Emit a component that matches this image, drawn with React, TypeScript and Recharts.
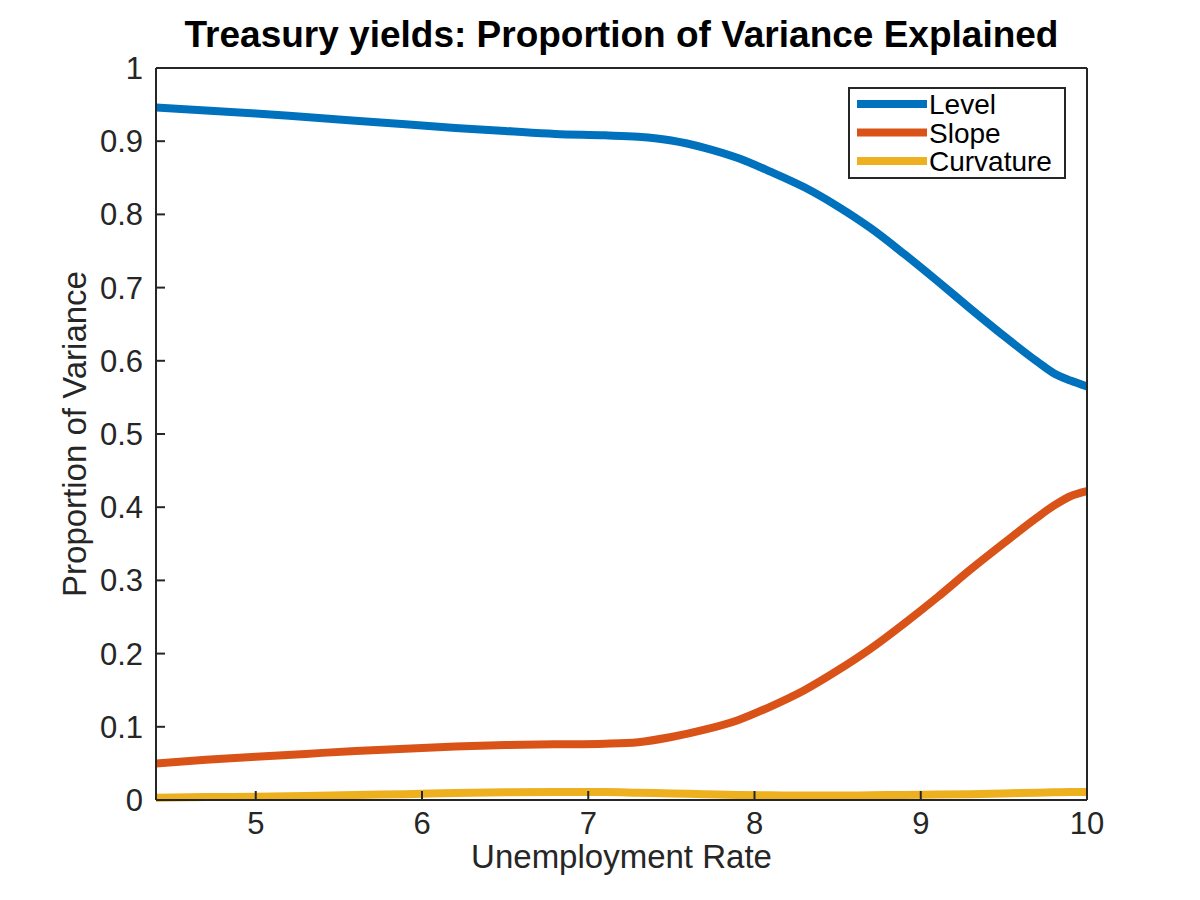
import React from "react";
import { LineChart, Line, XAxis, YAxis, Legend, Label } from "recharts";

// unemployment rate grid
const unemployment = [4.4, 4.7, 5.0, 5.3, 5.6, 5.9, 6.2, 6.5, 6.8, 7.1, 7.3, 7.5, 7.7, 7.9, 8.1, 8.3, 8.5, 8.7, 8.9, 9.1, 9.3, 9.5, 9.7, 9.8, 9.9, 10.0];

const level = [0.946, 0.942, 0.938, 0.933, 0.928, 0.923, 0.918, 0.914, 0.910, 0.908, 0.906, 0.901, 0.891, 0.877, 0.858, 0.837, 0.811, 0.781, 0.746, 0.709, 0.671, 0.634, 0.599, 0.583, 0.573, 0.565];
const slope = [0.050, 0.055, 0.059, 0.063, 0.067, 0.070, 0.073, 0.075, 0.076, 0.077, 0.079, 0.086, 0.096, 0.109, 0.128, 0.150, 0.177, 0.207, 0.241, 0.277, 0.315, 0.351, 0.386, 0.402, 0.415, 0.422];
const curvature = [0.003, 0.004, 0.0045, 0.0055, 0.007, 0.008, 0.0095, 0.0105, 0.011, 0.011, 0.010, 0.009, 0.008, 0.007, 0.0065, 0.006, 0.006, 0.0065, 0.007, 0.0075, 0.008, 0.009, 0.010, 0.0105, 0.011, 0.011];

const xTicks = [5, 6, 7, 8, 9, 10];
const yTicks = [0, 0.1, 0.2, 0.3, 0.4, 0.5, 0.6, 0.7, 0.8, 0.9, 1];

const series = [
  { key: "level", name: "Level", color: "#0072BD" },
  { key: "slope", name: "Slope", color: "#D95319" },
  { key: "curvature", name: "Curvature", color: "#EDB120" },
];

const data = unemployment.map((x, i) => ({
  x,
  level: level[i],
  slope: slope[i],
  curvature: curvature[i],
}));

const FONT = "'Liberation Sans', Arial, Helvetica, sans-serif";
const INK = "#262626";
const axisLine = { stroke: INK, strokeWidth: 2 };

function LegendBox() {
  return (
    <svg width={218} height={92}>
      <rect x={1} y={1} width={216} height={90} fill="#fff" stroke={INK} strokeWidth={2} />
      {series.map((s, i) => {
        const y = 17 + i * 28.5;
        return (
          <g key={s.key}>
            <line x1={9} x2={79} y1={y} y2={y} stroke={s.color} strokeWidth={8} />
            <text x={81} y={y + 10} fontSize={28} fontFamily={FONT} fill="#000">
              {s.name}
            </text>
          </g>
        );
      })}
    </svg>
  );
}

// y label + chart title, drawn from the left axis viewBox
function YLabelAndTitle({ viewBox }: any) {
  const cx = 86;
  const cy = viewBox.y + viewBox.height / 2;
  const plotCenter = viewBox.x + viewBox.width + 931 / 2;
  return (
    <g>
      <text x={cx} y={cy} transform={`rotate(-90 ${cx} ${cy})`} textAnchor="middle" fontSize={33} fontFamily={FONT} fill={INK}>
        Proportion of Variance
      </text>
      <text x={plotCenter} y={47} textAnchor="middle" fontSize={37} fontWeight="bold" fontFamily={FONT} fill="#000">
        Treasury yields: Proportion of Variance Explained
      </text>
    </g>
  );
}

export default function App() {
  return (
    <div style={{ position: "absolute", left: 0, top: 0, width: 1200, height: 900, background: "#fff" }}>
      <LineChart width={1200} height={900} data={data} margin={{ top: 67, right: 112, left: 56, bottom: 19 }}>
        <XAxis
          dataKey="x"
          type="number"
          domain={[4.4, 10]}
          ticks={xTicks}
          allowDataOverflow
          height={81}
          axisLine={axisLine}
          tickLine={axisLine}
          tickSize={-9}
          tickMargin={21}
          tick={{ fill: INK, fontSize: 31, fontFamily: FONT }}
        >
          <Label
            content={({ viewBox }: any) => (
              <text x={viewBox.x + viewBox.width / 2} y={868} textAnchor="middle" fontSize={33} fontFamily={FONT} fill={INK}>
                Unemployment Rate
              </text>
            )}
          />
        </XAxis>
        <XAxis
          xAxisId="top"
          orientation="top"
          dataKey="x"
          type="number"
          domain={[4.4, 10]}
          ticks={xTicks}
          allowDataOverflow
          height={1}
          axisLine={axisLine}
          tickLine={axisLine}
          tickSize={-9}
          tick={false}
        />
        <YAxis
          type="number"
          domain={[0, 1]}
          ticks={yTicks}
          width={100}
          axisLine={axisLine}
          tickLine={axisLine}
          tickSize={-9}
          tickMargin={22}
          tickFormatter={(v) => String(v)}
          tick={{ fill: INK, fontSize: 31, fontFamily: FONT }}
        >
          <Label content={YLabelAndTitle} />
        </YAxis>
        <YAxis
          yAxisId="right"
          orientation="right"
          type="number"
          domain={[0, 1]}
          ticks={yTicks}
          width={1}
          axisLine={axisLine}
          tickLine={axisLine}
          tickSize={-9}
          tick={false}
        />
        <Legend
          layout="vertical"
          align="center"
          verticalAlign="middle"
          wrapperStyle={{ left: 848, top: 87, width: 218, height: 92 }}
          content={() => <LegendBox />}
        />
        {/* invisible series so the box axes (top/right) are bound */}
        <Line
          xAxisId="top"
          yAxisId="right"
          dataKey="level"
          stroke="none"
          dot={false}
          activeDot={false}
          legendType="none"
          isAnimationActive={false}
        />
        {series.map((s) => (
          <Line
            key={s.key}
            type="monotone"
            dataKey={s.key}
            name={s.name}
            stroke={s.color}
            strokeWidth={8}
            dot={false}
            activeDot={false}
            isAnimationActive={false}
          />
        ))}
      </LineChart>
    </div>
  );
}
